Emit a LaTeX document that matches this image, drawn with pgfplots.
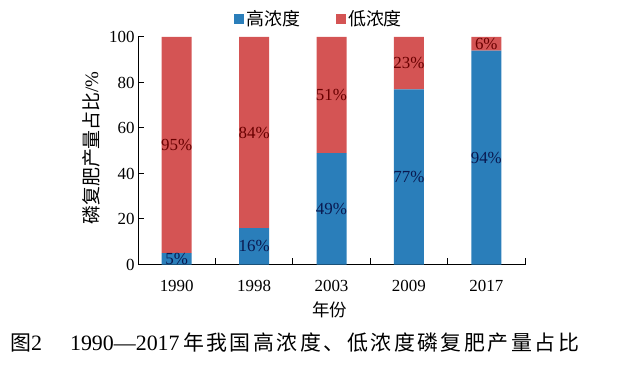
\documentclass[border=0pt]{standalone}
\usepackage{pgfplots}
\pgfplotsset{compat=1.18}
\usepackage{fontspec}
\setmainfont{Liberation Serif}
\newfontfamily\cjk{Noto Sans CJK SC}
\definecolor{hiblue}{RGB}{42,126,186}
\definecolor{lored}{RGB}{212,84,84}
\definecolor{navylab}{RGB}{10,25,80}
\definecolor{redlab}{RGB}{105,0,0}
\begin{document}
\begin{tikzpicture}
\useasboundingbox (0,0) rectangle (619bp,369bp);
\begin{axis}[
  at={(138bp,104.5bp)}, anchor=south west,
  scale only axis, width=387bp, height=227.5bp,
  xmin=-0.5, xmax=4.5, ymin=0, ymax=100,
  axis lines*=left,
  axis line style={line width=1bp, black},
  ybar stacked, bar width=30bp,
  xtick={0.5,1.5,2.5,3.5,4.5}, xticklabels={},
  extra x ticks={0,1,2,3,4},
  extra x tick labels={1990,1998,2003,2009,2017},
  extra x tick style={major tick length=0pt},
  ytick={0,20,40,60,80,100},
  tick align=inside, major tick length=6bp,
  tick style={line width=1bp, black},
  tick label style={font=\fontsize{17}{17}\selectfont},
  x tick label style={yshift=-12bp},
  /pgf/number format/assume math mode=true,
  xlabel={\cjk 年份},
  ylabel={\cjk 磷复肥产量占比\rmfamily/\%},
  x label style={at={(axis description cs:0.496,-0.2)}, anchor=center, font=\fontsize{17.5}{17.5}\selectfont},
  y label style={at={(axis description cs:-0.1214,0.512)}, anchor=center, rotate=0, font=\fontsize{19}{19}\selectfont},
  legend style={at={(axis description cs:0.468,1.079)}, anchor=center, draw=none, fill=none,
    legend columns=2, font=\cjk\fontsize{18}{18}\selectfont,
    /tikz/every even column/.append style={column sep=34bp}},
  legend image code/.code={\fill[#1] (0bp,-5bp) rectangle (10bp,5bp);},
]
\addplot[fill=hiblue, draw=none] coordinates {(0,5) (1,16) (2,49) (3,77) (4,94)};
\addlegendentry{高浓度}
\addplot[fill=lored, draw=none] coordinates {(0,95) (1,84) (2,51) (3,23) (4,6)};
\addlegendentry{低浓度}
\end{axis}
\begin{axis}[
  at={(138bp,104.5bp)}, anchor=south west,
  scale only axis, width=387bp, height=227.5bp,
  xmin=-0.5, xmax=4.5, ymin=0, ymax=100,
  hide axis,
]
\addplot[draw=none, mark=none,
  nodes near coords, point meta=explicit symbolic,
  every node near coord/.append style={anchor=center, text=navylab, font=\fontsize{17}{17}\selectfont, inner sep=0pt}]
  coordinates {(0,2.5) [5\%] (1,8) [16\%] (2,24.5) [49\%] (3,38.5) [77\%] (4,47) [94\%]};
\addplot[draw=none, mark=none,
  nodes near coords, point meta=explicit symbolic,
  every node near coord/.append style={anchor=center, text=redlab, font=\fontsize{17}{17}\selectfont, inner sep=0pt}]
  coordinates {(0,52.5) [95\%] (1,58) [84\%] (2,74.5) [51\%] (3,88.5) [23\%] (4,97) [6\%]};
\end{axis}
\node[anchor=west, inner sep=0pt] at (10bp,26bp) {{\cjk\fontsize{21}{21}\selectfont 图}{\fontsize{22}{22}\selectfont 2\hspace{28bp}1990—2017}{\cjk\fontsize{21}{21}\selectfont\addfontfeature{LetterSpace=12}\,年我国高浓度、低浓度磷复肥产量占比}};
\end{tikzpicture}
\end{document}
